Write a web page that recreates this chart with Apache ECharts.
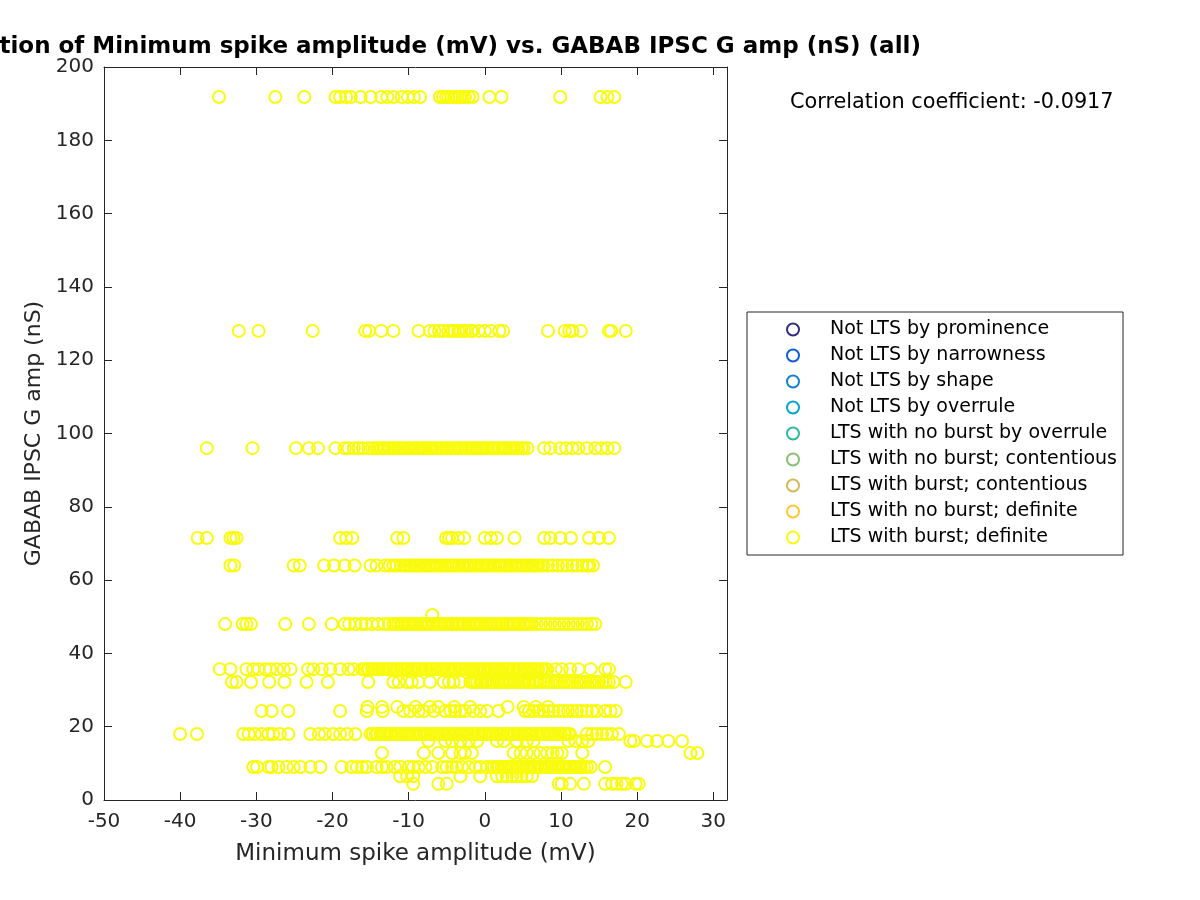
<!DOCTYPE html>
<html>
<head>
<meta charset="utf-8">
<script src="https://cdn.jsdelivr.net/npm/echarts@6/dist/echarts.min.js"></script>
<style>html,body{margin:0;padding:0;background:#fff}#c{width:1200px;height:900px}</style>
</head>
<body>
<div id="c"></div>
<script>
// ---- data ----
const titleText = 'Correlation of Minimum spike amplitude (mV) vs. GABAB IPSC G amp (nS) (all)';
const xName = 'Minimum spike amplitude (mV)';
const yName = 'GABAB IPSC G amp (nS)';
const corrText = 'Correlation coefficient: -0.0917';
const categories = ['Not LTS by prominence','Not LTS by narrowness','Not LTS by shape','Not LTS by overrule','LTS with no burst by overrule','LTS with no burst; contentious','LTS with burst; contentious','LTS with no burst; definite','LTS with burst; definite'];
const categoryColors = ['#352A87','#0F5CDD','#1481D6','#06A4CA','#2EB7A4','#87BF77','#D1BB59','#FEC832','#F9FB0E'];

const y192 = 191.8, y128 = 128, y96 = 96, y71 = 71.5, y64 = 64, y50 = 50.5, y48 = 48, y35 = 35.7, y32 = 32.2, y25 = 25.4, y24 = 24.3, y18 = 18, y16 = 16.1, y13 = 12.8, y9 = 9, y6 = 6.5, y4 = 4.4;

const x192 = [-34.9,-27.5,-23.7,-19.6,-19.0,-18.2,-17.6,-16.3,-15.0,-13.6,-12.8,-12.0,-10.9,-10.1,-9.3,-8.5,-5.9,-5.5,-5.1,-4.8,-4.4,-4.0,-3.7,-3.3,-2.9,-2.6,-2.1,-1.6,0.6,2.2,9.9,15.2,16.1,17.0];
const x128 = [-32.3,-29.7,-22.6,-15.7,-15.2,-13.6,-12.0,-8.7,-7.2,-6.6,-6.0,-5.5,-4.8,-4.3,-4.0,-3.5,-3.2,-2.7,-2.4,-1.8,-1.6,-0.8,0.0,0.8,1.9,2.4,8.3,10.5,11.1,11.5,12.6,16.3,16.6,18.5];
const x96 = [-36.5,-30.5,-24.8,-23.1,-21.9,-19.6,-18.4,-17.9,-17.2,-16.6,-16.0,-15.3,-14.8,
 -14.3,-14.0,-13.6,-13.3,-13.1,-12.7,-12.4,-12.0,-11.8,-11.4,-11.1,-10.8,-10.5,-10.1,-9.9,-9.5,-9.2,-8.9,-8.6,-8.2,-8.0,-7.7,-7.3,-7.0,-6.8,-6.4,-6.1,-5.8,-5.5,-5.1,-4.9,-4.5,-4.2,-3.9,-3.6,-3.3,-3.0,-2.6,-2.4,-2.0,-1.7,-1.4,-1.1,-0.8,-0.5,-0.2,0.1,0.4,0.8,1.0,1.3,1.7,1.9,2.3,2.6,2.8,3.2,3.5,3.8,4.1,4.4,4.8,5.1,
 5.6,7.8,8.6,9.9,10.7,11.5,12.3,13.4,14.5,15.3,16.1,17.0];
const x71 = [-37.7,-36.5,-33.4,-33.0,-32.6,-19.0,-18.2,-17.4,-11.5,-10.7,-5.1,-4.7,-4.3,-3.5,-2.7,0.0,0.8,1.6,3.9,7.8,8.6,9.9,11.3,13.7,15.0,16.3];
const x64 = [-33.4,-32.9,-25.1,-24.3,-21.1,-19.8,-18.4,-17.1,-15.0,-14.2,-13.1,-12.5,-12.0,-11.6,-11.0,
 -10.6,-10.3,-9.9,-9.7,-9.3,-9.0,-8.7,-8.4,-8.0,-7.8,-7.4,-7.1,-6.8,-6.5,-6.2,-5.8,-5.6,-5.2,-4.9,-4.6,-4.3,-4.0,-3.6,-3.4,-3.0,-2.7,-2.4,-2.1,-1.8,-1.4,-1.2,-0.8,-0.5,-0.2,0.1,0.4,0.7,1.1,1.3,1.7,2.0,2.3,2.6,2.9,3.3,3.5,3.9,4.2,4.5,4.8,5.1,5.5,5.7,6.1,6.4,6.7,7.0,7.4,7.7,
 8.3,8.9,9.6,10.2,10.8,11.5,12.1,12.8,13.4,13.7,14.2];
const x50 = [-6.9];
const x48 = [-34.1,-31.8,-31.3,-30.7,-26.2,-23.1,-20.1,-18.4,-17.8,-17.0,-16.2,-15.6,-14.8,-14.0,-13.2,-12.6,-12.0,
 -11.7,-11.4,-11.0,-10.8,-10.4,-10.1,-9.8,-9.5,-9.1,-8.9,-8.5,-8.2,-7.9,-7.6,-7.3,-6.9,-6.7,-6.3,-6.0,-5.7,-5.4,-5.1,-4.8,-4.4,-4.2,-3.8,-3.5,-3.2,-2.9,-2.6,-2.2,-2.0,-1.6,-1.3,-1.0,-0.7,-0.4,0.0,0.2,0.6,0.9,1.2,1.5,1.8,2.2,2.4,2.8,3.1,3.4,3.7,4.0,4.4,4.6,5.0,5.3,5.6,5.9,6.2,
 6.8,7.4,8.0,8.6,9.2,9.8,10.4,11.0,11.6,12.2,12.8,13.4,14.0,14.5];
const x35 = [-34.8,-33.4,-31.3,-30.4,-29.7,-28.8,-28.2,-27.3,-26.4,-25.5,-23.2,-22.5,-21.4,-20.3,-19.0,-17.9,-17.2,
 -16.1,-15.8,-15.4,-15.2,-14.8,-14.5,-14.2,-13.9,-13.5,-13.3,-12.9,-12.6,-12.3,-12.0,-11.6,-11.4,-11.0,-10.7,-10.4,-10.1,-9.7,-9.5,-9.1,-8.8,-8.5,-8.2,-7.8,-7.6,-7.2,-6.9,-6.6,-6.3,-5.9,-5.7,-5.3,-5.0,-4.7,-4.4,-4.0,-3.8,-3.4,-3.1,-2.8,-2.5,-2.1,-1.9,-1.5,-1.2,-0.9,-0.6,-0.2,0.0,0.4,0.7,1.0,1.3,1.7,1.9,2.3,2.6,2.9,3.2,3.6,3.8,4.2,4.5,4.8,5.1,5.5,5.7,6.1,6.4,6.7,7.0,7.4,7.6,8.0,8.2,
 9.3,10.1,11.2,12.3,13.9,15.8,16.3];
const x32 = [-33.2,-32.6,-30.7,-28.3,-26.3,-23.4,-20.6,-15.3,-12.0,-11.3,-10.2,-9.6,-8.7,-7.2,-5.4,-4.7,-4.1,-3.2,
 -1.9,-1.6,-1.3,-1.0,-0.6,-0.4,0.0,0.3,0.6,0.9,1.2,1.6,1.8,2.2,2.5,2.8,3.1,3.4,3.8,4.0,4.4,4.7,5.0,5.3,5.7,5.9,6.3,6.6,6.9,7.3,
 7.8,8.2,8.7,9.1,9.5,9.9,10.4,10.8,11.2,11.6,12.1,12.5,12.9,13.3,13.8,14.2,14.6,15.0,15.5,15.9,16.3,16.9,18.5];
const x25 = [-15.4,-13.5,-11.5,-9.1,-7.2,-6.1,-4.0,-1.9,3.0,5.1,6.7,8.3];
const x24 = [-29.3,-28.0,-25.8,-19.0,-15.5,-13.4,-10.7,-9.8,-8.7,-8.0,-6.7,-5.2,-4.5,-3.9,-3.2,-2.6,-1.5,-0.6,0.3,1.8,5.3,5.8,6.4,7.1,7.7,8.4,9.0,9.7,10.3,10.9,11.5,12.1,12.7,13.4,14.1,14.7,15.8,16.5,17.2];
const x18 = [-40.0,-37.8,-31.7,-31.0,-30.2,-29.3,-28.4,-27.8,-26.9,-25.8,-22.9,-21.8,-21.0,-19.9,-19.0,-18.1,-17.0,
 -15.0,-14.7,-14.3,-14.1,-13.7,-13.4,-13.1,-12.8,-12.4,-12.2,-11.8,-11.5,-11.2,-10.9,-10.5,-10.3,-9.9,-9.6,-9.3,-9.0,-8.6,-8.4,-8.0,-7.7,-7.4,-7.1,-6.7,-6.5,-6.1,-5.8,-5.5,-5.2,-4.8,-4.6,-4.2,-3.9,-3.6,-3.3,-2.9,-2.7,-2.3,-2.0,-1.7,-1.4,-1.0,-0.8,-0.4,-0.1,0.2,0.5,0.9,1.1,1.5,1.8,2.1,2.4,2.8,3.0,3.4,3.7,4.0,4.3,4.7,4.9,5.3,5.6,5.9,6.2,6.6,6.8,7.2,7.5,7.8,8.1,8.5,8.7,9.1,9.4,9.7,10.0,10.4,10.6,11.0,11.2,
 13.4,14.1,14.7,15.4,16.0,16.7,17.6];
const x16 = [-7.4,-5.2,-4.3,-3.2,-2.1,-1.0,1.6,2.5,4.2,5.5,6.4,11.0,11.9,12.8,13.6,19.1,19.6,21.3,22.6,24.1,25.9];
const x13 = [-13.5,-8.0,-6.1,-4.3,-3.2,-2.6,-1.7,3.8,4.7,5.5,6.4,7.3,8.2,8.9,9.5,10.1,12.8,27.0,27.9];
const x9 = [-30.4,-29.9,-28.4,-28.0,-27.1,-26.0,-25.1,-24.2,-22.9,-21.6,-18.8,-17.5,-16.8,-16.1,-15.5,-14.2,-13.5,-12.9,-11.8,-11.1,-10.0,-9.4,-8.7,-7.8,-6.9,-5.6,-5.0,-4.3,-3.7,-3.0,-2.1,-1.2,-0.6,0.3,
 0.9,1.2,1.6,1.8,2.2,2.5,2.8,3.1,3.5,3.7,4.1,4.4,4.7,5.0,5.4,5.6,6.0,6.3,6.6,6.9,7.3,7.5,7.9,8.2,8.5,8.8,9.2,9.4,9.8,10.1,10.4,10.7,11.1,11.3,11.7,12.0,12.3,12.6,13.0,13.4,
 13.9,15.8];
const x6 = [-11.1,-10.2,-9.4,-3.2,-0.6,1.6,2.3,2.9,3.6,4.2,4.8,5.5,6.2];
const x4 = [-9.4,-6.1,-5.0,9.7,10.1,11.2,13.0,15.8,16.7,17.3,18.0,18.5,19.8,20.2];

const xTicks = [-50,-40,-30,-20,-10,0,10,20,30];
const yTicks = [0,20,40,60,80,100,120,140,160,180,200];

// ---- build points ----
const rowList = [[y192,x192],[y128,x128],[y96,x96],[y71,x71],[y64,x64],[y50,x50],[y48,x48],[y35,x35],[y32,x32],[y25,x25],[y24,x24],[y18,x18],[y16,x16],[y13,x13],[y9,x9],[y6,x6],[y4,x4]];
const points = [];
rowList.forEach(([yv, xs]) => xs.forEach(xv => points.push([xv, yv])));

const FONT = 'DejaVu Sans';
const AX = '#262626';

const series = categories.map((name, i) => ({
  name: name,
  type: 'scatter',
  symbol: 'circle',
  symbolSize: 12,
  xAxisIndex: 0,
  yAxisIndex: 0,
  itemStyle: { color: 'rgba(0,0,0,0)', borderColor: categoryColors[i], borderWidth: 2, opacity: 1 },
  emphasis: { disabled: true },
  data: i === categories.length - 1 ? points : []
}));

function baseAxis(extra) {
  return Object.assign({
    type: 'value',
    axisLine: { show: true, onZero: false, lineStyle: { color: AX, width: 1 } },
    axisTick: { show: true, inside: true, length: 8, lineStyle: { color: AX, width: 1 } },
    splitLine: { show: false },
    minorTick: { show: false }
  }, extra);
}

const chart = echarts.init(document.getElementById('c'), null, { renderer: 'canvas' });
chart.setOption({
  animation: false,
  backgroundColor: '#ffffff',
  grid: { left: 104, top: 67, width: 623, height: 733 },
  xAxis: [
    baseAxis({
      position: 'bottom', min: xTicks[0], max: 31.8, interval: 10,
      axisLabel: { show: true, margin: 12, fontSize: 20, color: AX, fontFamily: FONT, showMaxLabel: false,
        formatter: v => (xTicks.indexOf(v) >= 0 ? String(v) : '') },
      name: xName, nameLocation: 'middle', nameGap: 43,
      nameTextStyle: { fontSize: 23, color: AX, fontFamily: FONT }
    }),
    baseAxis({ position: 'top', min: xTicks[0], max: 31.8, interval: 10, axisLabel: { show: false } })
  ],
  yAxis: [
    baseAxis({
      position: 'left', min: yTicks[0], max: yTicks[yTicks.length - 1], interval: 20,
      axisLabel: { show: true, margin: 10, fontSize: 20, color: AX, fontFamily: FONT },
      name: yName, nameLocation: 'middle', nameGap: 52,
      nameTextStyle: { fontSize: 22, color: AX, fontFamily: FONT }
    }),
    baseAxis({ position: 'right', min: yTicks[0], max: yTicks[yTicks.length - 1], interval: 20, axisLabel: { show: false } })
  ],
  legend: {
    orient: 'vertical',
    left: 747, top: 312,
    padding: [8, 6, 8, 39],
    itemGap: 7,
    itemWidth: 64, itemHeight: 12,
    symbolKeepAspect: true,
    selectedMode: false,
    borderColor: AX, borderWidth: 1, borderRadius: 0,
    backgroundColor: '#ffffff',
    textStyle: { fontSize: 19, lineHeight: 19, color: '#000', fontFamily: FONT },
    data: categories
  },
  graphic: [
    { type: 'text', x: 413, y: 47, silent: true,
      style: { text: titleText, font: 'bold 23px "DejaVu Sans"', fill: '#000', align: 'center', verticalAlign: 'middle', textAlign: 'center', textVerticalAlign: 'middle' } },
    { type: 'text', x: 790, y: 103, silent: true,
      style: { text: corrText, font: '20.8px "DejaVu Sans"', fill: '#000', align: 'left', verticalAlign: 'middle', textAlign: 'left', textVerticalAlign: 'middle' } }
  ],
  series: series
});
</script>
</body>
</html>
